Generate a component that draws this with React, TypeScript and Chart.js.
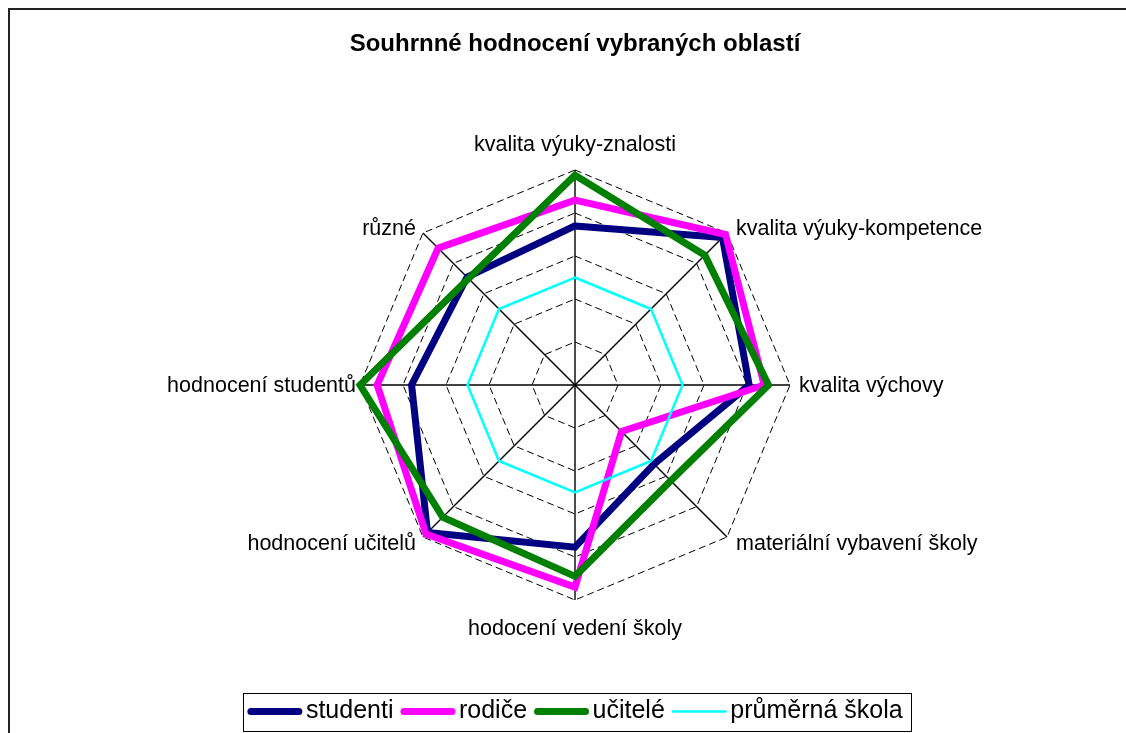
import React, { useEffect, useRef } from 'react';
import { Chart, registerables } from 'chart.js';

Chart.register(...registerables);

const FONT = '"Liberation Sans", Arial, Helvetica, sans-serif';

const chartTitle = 'Souhrnné hodnocení vybraných oblastí';
const categories = [
  'kvalita výuky-znalosti',
  'kvalita výuky-kompetence',
  'kvalita výchovy',
  'materiální vybavení školy',
  'hodocení vedení školy',
  'hodnocení učitelů',
  'hodnocení studentů',
  'různé',
];
const seriesNames = ['studenti', 'rodiče', 'učitelé', 'průměrná škola'];
const studenti = [3.7, 4.85, 4.05, 2.6, 3.77, 4.85, 3.8, 3.55];
const rodice = [4.3, 4.95, 4.4, 1.53, 4.7, 4.9, 4.6, 4.5];
const ucitele = [4.88, 4.27, 4.5, 3.15, 4.45, 4.35, 5.0, 3.5];
const prumernaSkola = [2.5, 2.5, 2.5, 2.5, 2.5, 2.5, 2.5, 2.5];
const scaleMin = 0;
const scaleMax = 5;
const scaleStep = 1;

// label offsets from the end of each axis (styling only)
const labelOffsets: [number, number][] = [
  [0, -25],
  [9, -4],
  [9, 1],
  [9, 7],
  [0, 29],
  [-7, 7],
  [-4, 1],
  [-7, -4],
];

const axisLabelPlugin = {
  id: 'axisLabels',
  afterDraw(chart: any) {
    const scale = chart.scales.r;
    const ctx = chart.ctx;
    ctx.save();
    ctx.font = `21.5px ${FONT}`;
    ctx.fillStyle = '#000';
    ctx.textBaseline = 'middle';
    categories.forEach((label, i) => {
      const p = scale.getPointPosition(i, scale.drawingArea);
      const [dx, dy] = labelOffsets[i];
      ctx.textAlign = dx > 0 ? 'left' : dx < 0 ? 'right' : 'center';
      ctx.fillText(label, p.x + dx, p.y + dy);
    });
    ctx.restore();
  },
};

// draws the legend sample lines and the frame around the legend
const legendDecorPlugin = {
  id: 'legendDecor',
  afterDraw(chart: any) {
    const legend = chart.legend;
    const boxes = legend?.legendHitBoxes;
    if (!boxes || !boxes.length) return;
    const ctx = chart.ctx;
    const items = legend.legendItems;
    ctx.save();
    boxes.forEach((b: any, i: number) => {
      const ds = chart.data.datasets[items[i].datasetIndex];
      const cy = b.top + b.height / 2;
      const w = ds.borderWidth;
      ctx.strokeStyle = ds.borderColor;
      ctx.lineWidth = w;
      ctx.lineCap = 'round';
      ctx.beginPath();
      ctx.moveTo(b.left + w / 2, cy);
      ctx.lineTo(b.left + 55 - w / 2, cy);
      ctx.stroke();
    });
    const left = Math.min(...boxes.map((b: any) => b.left)) - 4;
    const right = Math.max(...boxes.map((b: any) => b.left + b.width)) + 9;
    const cy = boxes[0].top + boxes[0].height / 2;
    ctx.strokeStyle = '#000';
    ctx.lineWidth = 1;
    ctx.lineCap = 'butt';
    ctx.strokeRect(Math.round(left) + 0.5, Math.round(cy - 19) + 0.5, Math.round(right - left), 38);
    ctx.restore();
  },
};

export default function App() {
  const ref = useRef<HTMLCanvasElement>(null);

  useEffect(() => {
    if (!ref.current) return;
    const mk = (label: string, data: number[], color: string, width: number, order: number) => ({
      label,
      data,
      borderColor: color,
      backgroundColor: color,
      borderWidth: width,
      borderJoinStyle: 'miter' as const,
      pointRadius: 0,
      pointHoverRadius: 0,
      fill: false,
      tension: 0,
      order,
    });
    const chart = new Chart(ref.current, {
      type: 'radar',
      data: {
        labels: categories,
        datasets: [
          mk(seriesNames[0], studenti, '#000080', 7, 3),
          mk(seriesNames[1], rodice, '#FF00FF', 7, 2),
          mk(seriesNames[2], ucitele, '#008000', 7, 1),
          mk(seriesNames[3], prumernaSkola, '#00FFFF', 2.5, 0),
        ],
      },
      options: {
        responsive: false,
        animation: false,
        devicePixelRatio: 1,
        layout: { padding: { left: 14, right: 0, top: 0, bottom: 0 } },
        scales: {
          r: {
            min: scaleMin,
            max: scaleMax,
            ticks: { display: false, stepSize: scaleStep },
            grid: { color: '#000', lineWidth: 1, circular: false },
            border: { dash: [7, 4] } as any,
            angleLines: { display: true, color: '#000', lineWidth: 1.4 },
            pointLabels: { display: false },
          },
        },
        plugins: {
          title: {
            display: true,
            text: chartTitle,
            color: '#000',
            font: { family: FONT, size: 24, weight: 'bold' },
            padding: { top: 20, bottom: 111 },
          },
          legend: {
            display: true,
            position: 'bottom',
            title: {
              display: true,
              text: '',
              font: { family: FONT, size: 10, lineHeight: 1 },
              padding: { top: 81, bottom: 0 },
            },
            labels: {
              usePointStyle: true,
              pointStyle: 'line',
              pointStyleWidth: 46,
              color: '#000',
              padding: 7,
              font: { family: FONT, size: 25 },
              generateLabels: (chart: any) =>
                chart.data.datasets.map((ds: any, i: number) => ({
                  text: ds.label,
                  datasetIndex: i,
                  fillStyle: 'rgba(0,0,0,0)',
                  strokeStyle: 'rgba(0,0,0,0)',
                  lineWidth: 0,
                  pointStyle: 'line',
                  hidden: false,
                  fontColor: '#000',
                })),
            },
          },
          tooltip: { enabled: false },
        },
      },
      plugins: [axisLabelPlugin, legendDecorPlugin],
    } as any);
    return () => chart.destroy();
  }, []);

  return (
    <div style={{ position: 'fixed', left: 8, top: 8, width: 1118, height: 725, overflow: 'hidden' }}>
      <div
        style={{
          position: 'absolute',
          left: 0,
          top: 0,
          width: 1400,
          height: 1000,
          borderLeft: '2px solid #222',
          borderTop: '2px solid #222',
          boxSizing: 'border-box',
        }}
      />
      <canvas
        ref={ref}
        width={1116}
        height={724}
        style={{ position: 'absolute', left: 2, top: 2, width: 1116, height: 724 }}
      />
    </div>
  );
}
